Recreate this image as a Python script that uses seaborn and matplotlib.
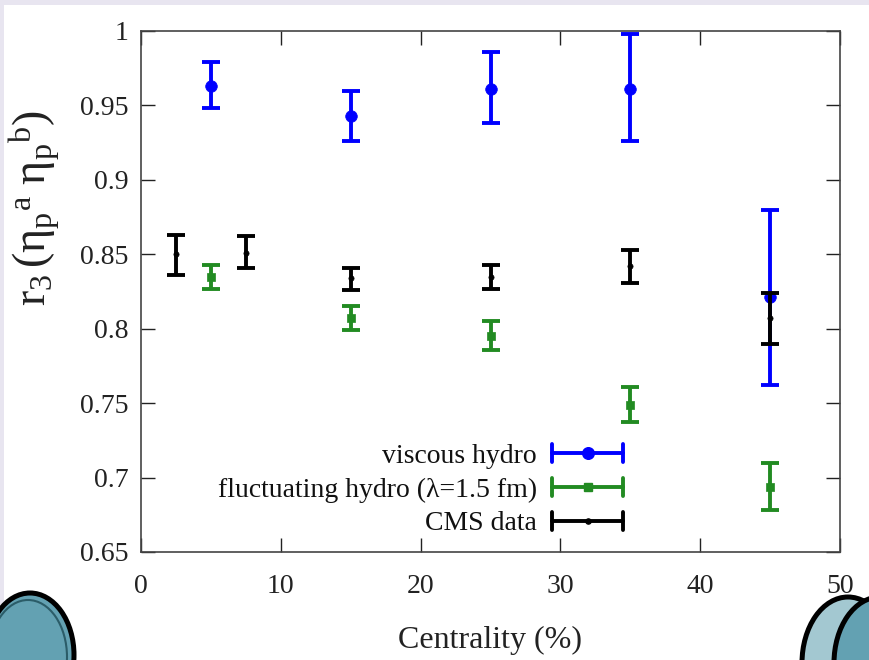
import numpy as np
import pandas as pd
import matplotlib
matplotlib.use("Agg")
import matplotlib.pyplot as plt
import seaborn as sns
from matplotlib.patches import Rectangle, Ellipse
from matplotlib.lines import Line2D
from matplotlib.legend_handler import HandlerBase

# ---- data: r3 decorrelation vs centrality ----
visc_x = [5, 15, 25, 35, 45]
visc_y = [0.963, 0.943, 0.961, 0.961, 0.821]
visc_lo = [0.948, 0.926, 0.938, 0.926, 0.762]
visc_hi = [0.979, 0.960, 0.986, 0.998, 0.880]

fluc_x = [5, 15, 25, 35, 45]
fluc_y = [0.835, 0.807, 0.795, 0.749, 0.694]
fluc_lo = [0.827, 0.799, 0.786, 0.737, 0.678]
fluc_hi = [0.843, 0.815, 0.805, 0.761, 0.710]

cms_x = [2.5, 7.5, 15, 25, 35, 45]
cms_y = [0.850, 0.851, 0.834, 0.835, 0.842, 0.807]
cms_lo = [0.836, 0.841, 0.826, 0.827, 0.831, 0.790]
cms_hi = [0.863, 0.862, 0.841, 0.843, 0.853, 0.824]

series_labels = ["viscous hydro", "fluctuating hydro (\u03bb=1.5 fm)", "CMS data"]
x_ticks = [0, 10, 20, 30, 40, 50]
y_ticks = [0.65, 0.70, 0.75, 0.80, 0.85, 0.90, 0.95, 1.00]
y_ticklabels = ["0.65", "0.7", "0.75", "0.8", "0.85", "0.9", "0.95", "1"]

# ---- style ----
sns.set_theme(style="ticks")
plt.rcParams["font.family"] = ["Liberation Serif", "DejaVu Serif"]
plt.rcParams["mathtext.fontset"] = "custom"
plt.rcParams["mathtext.rm"] = "Liberation Serif"
plt.rcParams["mathtext.it"] = "Liberation Serif:italic"

W, H = 869, 660
fig = plt.figure(figsize=(W / 100, H / 100), dpi=100)
fig.patch.set_facecolor("white")
ax = fig.add_axes([141 / W, 1 - 552 / H, 699 / W, 521 / H])
ax.set_facecolor("white")

styles = [
    dict(color="#0000ff", marker="o", s=70, lw=2.8),
    dict(color="#228b22", marker="s", s=40, lw=2.8),
    dict(color="#000000", marker="o", s=14, lw=2.8),
]
sets = [
    (visc_x, visc_y, visc_lo, visc_hi),
    (fluc_x, fluc_y, fluc_lo, fluc_hi),
    (cms_x, cms_y, cms_lo, cms_hi),
]

handles = []
for k, ((xs, ys, lo, hi), st, lab) in enumerate(zip(sets, styles, series_labels)):
    df = pd.DataFrame({"x": xs, "y": ys, "lo": lo, "hi": hi})
    ax.errorbar(df["x"], df["y"], yerr=[df["y"] - df["lo"], df["hi"] - df["y"]],
                fmt="none", ecolor=st["color"], elinewidth=st["lw"],
                capsize=6.5, capthick=st["lw"], zorder=3 + 2 * k)
    sns.scatterplot(data=df, x="x", y="y", color=st["color"], marker=st["marker"],
                    s=st["s"], edgecolor=st["color"], linewidth=0.5,
                    zorder=4 + 2 * k, ax=ax, legend=False)
    handles.append(Line2D([], [], color=st["color"], marker=st["marker"],
                          markersize=np.sqrt(st["s"]), lw=st["lw"], label=lab))


class HorizontalErrorHandler(HandlerBase):
    """Legend key drawn as a horizontal bar with end caps and a centre marker."""

    def create_artists(self, legend, orig_handle, xdescent, ydescent,
                       width, height, fontsize, trans):
        c = orig_handle.get_color()
        lw = orig_handle.get_linewidth()
        y = height / 2 - ydescent
        x0, x1 = -xdescent, -xdescent + width
        cap = 6.5
        arts = [
            Line2D([x0, x1], [y, y], color=c, lw=lw),
            Line2D([x0, x0], [y - cap, y + cap], color=c, lw=lw),
            Line2D([x1, x1], [y - cap, y + cap], color=c, lw=lw),
            Line2D([(x0 + x1) / 2], [y], color=c, ls="none",
                   marker=orig_handle.get_marker(),
                   markersize=orig_handle.get_markersize()),
        ]
        for a in arts:
            a.set_transform(trans)
        return arts


leg = ax.legend(handles=handles, handler_map={Line2D: HorizontalErrorHandler()},
                loc="lower right", bbox_to_anchor=(0.6896, 0.03),
                frameon=False, markerfirst=False, fontsize=20,
                handlelength=2.55, handletextpad=0.55, labelspacing=0.3,
                borderpad=0, borderaxespad=0)
for t in leg.get_texts():
    t.set_color("#111111")

# ---- axes ----
ax.set_xlim(0, 50)
ax.set_ylim(0.65, 1.0)
ax.set_xticks(x_ticks)
ax.set_yticks(y_ticks)
ax.set_yticklabels(y_ticklabels)
ax.tick_params(direction="in", length=10, width=1, top=True, right=True,
               labelsize=20, colors="#222222")
ax.tick_params(axis="x", pad=16)
ax.tick_params(axis="y", pad=9)
for sp in ax.spines.values():
    sp.set_color("#444444")
    sp.set_linewidth(1.2)

ax.set_xlabel("Centrality (%)", fontsize=23, color="#222222")
ax.xaxis.set_label_coords(0.5, -0.169)
ax.xaxis.label.set_va("center")
ax.set_ylabel(r"$\mathrm{r_3\,(\eta_p{}^{a}\ \eta_p{}^{b})}$", fontsize=33,
              color="#222222")
ax.yaxis.set_label_coords(-0.153, 0.66)
ax.yaxis.label.set_va("center")

# ---- slide frame decorations ----
fig.add_artist(Rectangle((0, 1 - 5 / H), 1, 5 / H, transform=fig.transFigure,
                         facecolor="#e8e5f0", edgecolor="none", zorder=0))
fig.add_artist(Rectangle((0, 0), 4 / W, 1, transform=fig.transFigure,
                         facecolor="#e8e5f0", edgecolor="none", zorder=0))


def disc(cx, cy, w, h, face):
    fig.add_artist(Ellipse((cx / W, 1 - cy / H), w / W, h / H,
                           transform=fig.transFigure, facecolor=face,
                           edgecolor="black", lw=3.6, zorder=10))


disc(30, 655, 88, 124, "#63a1b2")
fig.add_artist(Ellipse((28 / W, 1 - 657 / H), 78 / W, 114 / H,
                       transform=fig.transFigure, facecolor="none",
                       edgecolor="#2b5c68", lw=1.5, zorder=11))
disc(848, 663, 92, 132, "#a3c8d1")
disc(880, 663, 92, 132, "#63a1b2")

fig.savefig("out.png", dpi=100)
